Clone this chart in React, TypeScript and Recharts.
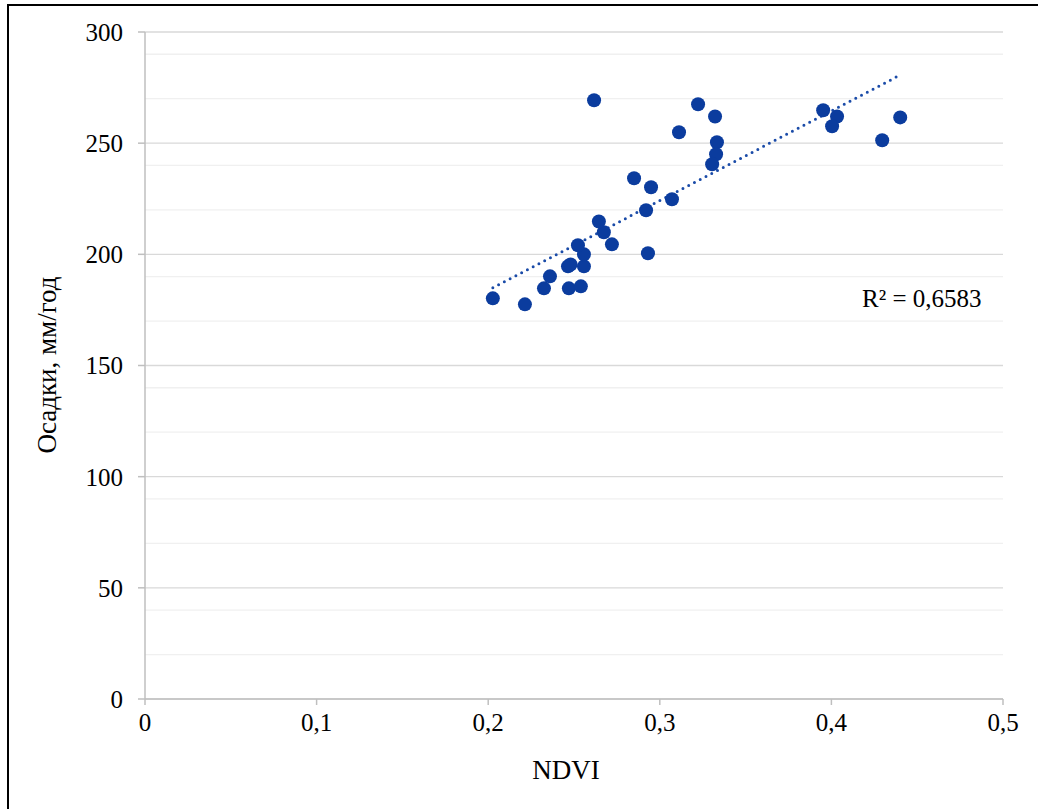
import { ScatterChart, Scatter, XAxis, YAxis, CartesianGrid } from "recharts";

// NDVI vs precipitation
const ndvi = [
  0.2027, 0.2214, 0.2325, 0.236, 0.247, 0.254, 0.2465, 0.248, 0.2558, 0.2558,
  0.2523, 0.2721, 0.2674, 0.2645, 0.2931, 0.292, 0.285, 0.2949, 0.3071, 0.2617,
  0.3112, 0.3223, 0.3322, 0.3333, 0.3328, 0.3305, 0.3952, 0.4033, 0.4004, 0.4296,
  0.4401,
];
const precip = [
  180.2, 177.5, 184.7, 190.1, 184.7, 185.6, 194.6, 195.4, 194.6, 200,
  204.1, 204.5, 209.9, 214.8, 200.5, 219.8, 234.2, 230.2, 224.8, 269.3,
  254.9, 267.5, 262, 250.4, 245, 240.5, 264.8, 262, 257.6, 251.3,
  261.6,
];

const xTicks = [0, 0.1, 0.2, 0.3, 0.4, 0.5];
const yTicks = [0, 50, 100, 150, 200, 250, 300];
const yMinor = [10, 20, 30, 40, 60, 70, 80, 90, 110, 120, 130, 140, 160, 170, 180, 190, 210, 220, 230, 240, 260, 270, 280, 290];

const points = ndvi.map((x, i) => ({ x, y: precip[i] }));

const FONT = "'Liberation Serif', 'Times New Roman', serif";
const DOT = "#0B3C9E";

const fmt = (v: number) => String(v).replace(".", ",");

export default function App() {
  return (
    <div style={{ position: "absolute", left: 0, top: 0, width: 1038, height: 809, background: "#fff", overflow: "hidden" }}>
      <div style={{ position: "absolute", left: 7, top: 4, width: 1060, height: 830, border: "2px solid #000", boxSizing: "border-box" }} />
      <ScatterChart width={1038} height={809} margin={{ top: 32, right: 35, bottom: 50, left: 75 }}>
        <CartesianGrid vertical={false} horizontalValues={yMinor} stroke="#f0f0f0" strokeWidth={1.3} />
        <CartesianGrid vertical={false} horizontalValues={yTicks} stroke="#d9d9d9" strokeWidth={1.3} />
        <XAxis
          type="number"
          dataKey="x"
          domain={[0, 0.5]}
          ticks={xTicks}
          tickFormatter={fmt}
          height={60}
          axisLine={{ stroke: "#bfbfbf", strokeWidth: 1.5 }}
          tickLine={{ stroke: "#bfbfbf", strokeWidth: 1.5 }}
          tickSize={6}
          tickMargin={8}
          tick={{ fill: "#000", fontSize: 25, fontFamily: FONT }}
        />
        <YAxis
          type="number"
          dataKey="y"
          domain={[0, 300]}
          ticks={yTicks}
          width={70}
          axisLine={{ stroke: "#bfbfbf", strokeWidth: 1.5 }}
          tickLine={{ stroke: "#bfbfbf", strokeWidth: 1.5 }}
          tickSize={7}
          tickMargin={15}
          tick={{ fill: "#000", fontSize: 25, fontFamily: FONT }}
        />
        <Scatter
          data={points}
          isAnimationActive={false}
          line={{ stroke: "#1A4BA8", strokeWidth: 3, strokeDasharray: "0 6.5", strokeLinecap: "round" }}
          lineType="fitting"
          shape={(p: any) => <circle cx={p.cx} cy={p.cy} r={7} fill={DOT} />}
        />
      </ScatterChart>
      <svg width={1038} height={809} style={{ position: "absolute", left: 0, top: 0, pointerEvents: "none" }}>
        <text x={566} y={779} textAnchor="middle" fontFamily={FONT} fontSize={27} fill="#000">NDVI</text>
        <text
          x={0}
          y={0}
          transform="translate(56 365) rotate(-90)"
          textAnchor="middle"
          fontFamily={FONT}
          fontSize={27}
          fill="#000"
        >
          Осадки, мм/год
        </text>
        <text x={862} y={307} fontFamily={FONT} fontSize={25} fill="#000">R² = 0,6583</text>
      </svg>
    </div>
  );
}
